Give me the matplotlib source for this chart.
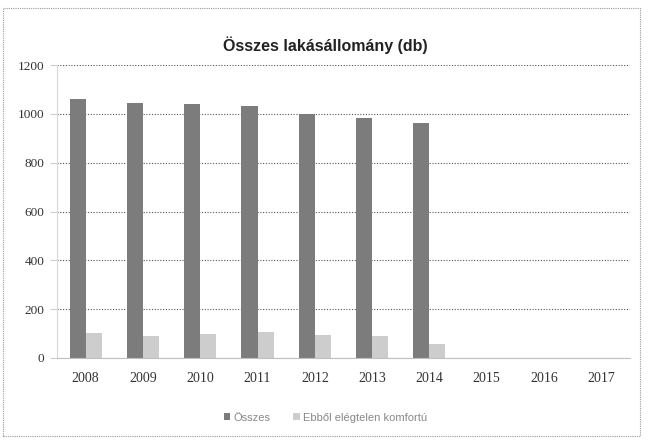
import numpy as np
import matplotlib.pyplot as plt
from matplotlib.patches import Rectangle

years = ['2008', '2009', '2010', '2011', '2012', '2013', '2014', '2015', '2016', '2017']
osszes = [1060, 1045, 1042, 1032, 1000, 985, 962, np.nan, np.nan, np.nan]
elegtelen = [102, 89, 100, 105, 93, 89, 56, np.nan, np.nan, np.nan]
yticks = [0, 200, 400, 600, 800, 1000, 1200]

fig = plt.figure(figsize=(6.51, 4.43), dpi=100)
ax = fig.add_axes([0.0876, 0.192, 0.88, 0.661])

x = np.arange(len(years))
w = 0.28
ax.bar(x - w / 2, osszes, width=w, color='#7c7c7c', label='Összes')
ax.bar(x + w / 2, elegtelen, width=w, color='#cdcdcd', label='Ebből elégtelen komfortú')

ax.set_xlim(-0.5, len(years) - 0.5)
ax.set_ylim(0, 1200)
ax.set_yticks(yticks)
ax.set_xticks(x)
ax.set_xticklabels(years, family='Liberation Serif', fontsize=10, color='#333333')
ax.set_yticklabels([str(v) for v in yticks], family='Liberation Serif', fontsize=9.5, color='#333333')
ax.tick_params(axis='x', length=0, pad=10)
ax.tick_params(axis='y', length=5, color='#d0d0d0', pad=4)
ax.yaxis.grid(True, linestyle=(0, (1, 1.5)), color='#555555', linewidth=0.8)
ax.set_axisbelow(True)
for s in ['top', 'right']:
    ax.spines[s].set_visible(False)
ax.spines['left'].set_color('#d8d8d8')
ax.spines['bottom'].set_color('#c0c0c0')

fig.text(0.5, 0.897, 'Összes lakásállomány (db)', ha='center', va='center',
         fontsize=11.5, fontweight='bold', family='Liberation Sans', color='#222222')

leg = fig.legend(loc='center', bbox_to_anchor=(0.5, 0.057), ncol=2, frameon=False,
                 handlelength=0.6, handleheight=0.6, columnspacing=2.0,
                 handletextpad=0.3, prop={'family': 'Liberation Sans', 'size': 8})
for t in leg.get_texts():
    t.set_color('#888888')

# dotted border of the chart area
fig.patches.append(Rectangle((0.005, 0.015), 0.978, 0.967, transform=fig.transFigure,
                             fill=False, edgecolor='#999999', linestyle=(0, (1, 1)),
                             linewidth=0.8))

fig.savefig('out.png', dpi=100)
